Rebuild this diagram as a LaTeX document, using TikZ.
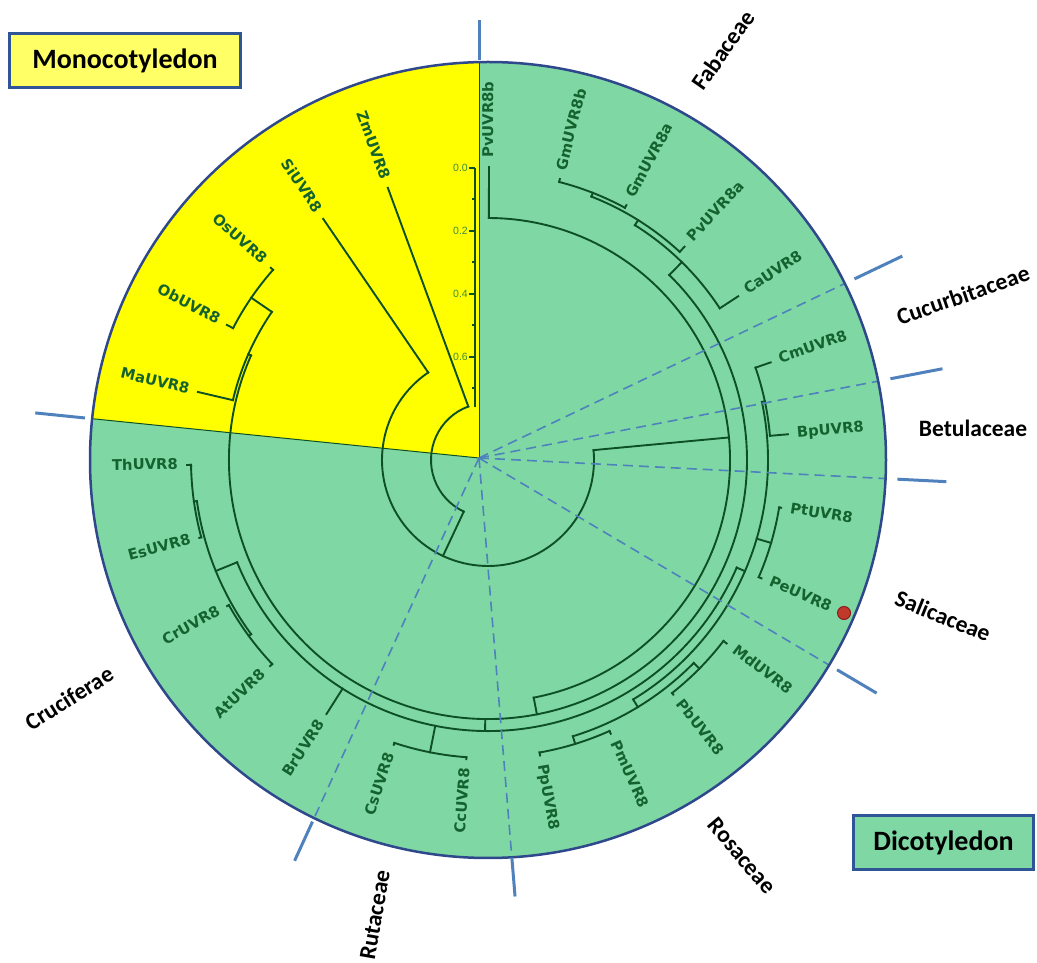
\documentclass[tikz,border=0pt]{standalone}
\usepackage{fontspec}
\newfontfamily\famfont{Carlito}
\newfontfamily\leaffont{DejaVu Sans}
\newfontfamily\barfont{Liberation Sans}
\usetikzlibrary{calc, positioning}
\definecolor{circfill}{RGB}{127,215,164}
\definecolor{monofill}{RGB}{255,255,0}
\definecolor{monobox}{RGB}{255,255,102}
\definecolor{branchcol}{RGB}{14,80,38}
\definecolor{leafcol}{RGB}{20,98,46}
\definecolor{rimcol}{RGB}{47,72,140}
\definecolor{tickcol}{RGB}{79,129,189}
\definecolor{boxedge}{RGB}{47,85,151}
\definecolor{barlbl}{RGB}{64,140,64}
\definecolor{dotcol}{RGB}{192,57,43}
\definecolor{dotedge}{RGB}{140,30,30}

\begin{document}
\begin{tikzpicture}[x=1pt, y=1pt,
    branch/.style={draw=branchcol, line width=1.9, line cap=rect},
    edge/.style={draw=branchcol, line width=1},
    leaf/.style={text=leafcol, font=\leaffont\bfseries\fontsize{14.8}{16}\selectfont, inner sep=0, text height=11pt, text depth=3pt},
    family/.style={font=\famfont\bfseries\fontsize{23.5}{26}\selectfont, inner sep=0},
    groupbox/.style={draw=boxedge, line width=3, font=\famfont\bfseries\fontsize{28}{32}\selectfont, minimum height=54},
    boundary/.style={draw=tickcol, line width=3},
    divider/.style={draw=tickcol, line width=1.6, dash pattern=on 10pt off 6pt},
    scalebar/.style={draw=branchcol, line width=2},
    barlabel/.style={text=barlbl, font=\barfont\fontsize{10.5}{12}\selectfont, inner sep=0}
  ]
  \useasboundingbox (0,0) rectangle (1037,962);

  % Kreis und Sektor
  \coordinate (T) at (488,502);
  \coordinate (A) at (479,504);
  \fill[circfill] (T) circle (398);
  \begin{scope}
    \clip (T) circle (398);
    \fill[monofill] (A) -- +(90:500) -- +(132:700) -- +(174.2:500) -- cycle;
    \draw[edge] (A) -- +(90:500);
    \draw[edge] (A) -- +(174.2:500);
  \end{scope}

  % Baum
  \begin{scope}[shift={(T)}]
    \draw[branch] (110.2:57) arc[start angle=110.2, end angle=244.85, radius=57];
    \foreach \from/\upto/\rad/\prad in {
        124.35/365.35/106/57, 280.89/449.8/242/106, 156.19/405.58/259/242,
        145.575/166.8/262/259, 138.5/152.65/287/262, 202.18/336.6/271/259,
        188.03/216.33/294/271, 180.95/195.1/297/294, 209.25/223.4/297/294,
        251.7/265.85/298/271, 301.23/371.98/280/271, 287.08/315.38/289/280,
        280/294.15/297/289, 308.3/322.45/297/289, 336.6/350.75/295/280,
        364.9/379.05/283/280, 393.2/417.96/277/259, 407.35/428.58/283/277,
        421.5/435.65/287/283}
    {
      \pgfmathsetmacro\cmid{(\from+\upto)/2}
      \draw[branch] (\cmid:\prad) -- (\cmid:\rad);
      \draw[branch] (\from:\rad) arc[start angle=\from, end angle=\upto, radius=\rad];
    }
    % linke Haelfte
    \foreach \lang/\lbase/\ltip/\lname in {
        110.2/57/290/ZmUVR8, 124.35/106/292/SiUVR8, 138.5/287/290/OsUVR8,
        152.65/287/294/ObUVR8, 166.8/262/298/MaUVR8, 180.95/297/301/ThUVR8,
        195.1/297/299/EsUVR8, 209.25/297/299/CrUVR8, 223.4/297/300/AtUVR8,
        237.55/271/301/BrUVR8, 251.7/298/300/CsUVR8, 265.85/298/300/CcUVR8}
    {
      \pgfmathsetmacro\lpos{\ltip+9}
      \draw[branch] (\lang:\lbase) -- (\lang:\ltip);
      \node[leaf, rotate=\lang-180, anchor=east] (\lname) at (\lang:\lpos) {\lname};
    }
    % rechte Haelfte
    \foreach \lang/\lbase/\ltip/\lname in {
        280/297/300/PpUVR8, 294.15/297/300/PmUVR8, 308.3/297/299/PbUVR8,
        322.45/297/301/MdUVR8, 336.6/295/298/PeUVR8, 350.75/295/297/PtUVR8,
        364.9/283/301/BpUVR8, 379.05/283/299/CmUVR8, 393.2/277/299/CaUVR8,
        407.35/283/290/PvUVR8a, 421.5/287/290/GmUVR8a, 435.65/287/290/GmUVR8b,
        449.8/242/293/PvUVR8b}
    {
      \pgfmathsetmacro\lpos{\ltip+9}
      \draw[branch] (\lang:\lbase) -- (\lang:\ltip);
      \node[leaf, rotate=\lang, anchor=west] (\lname) at (\lang:\lpos) {\lname};
    }
  \end{scope}

  % Massstab
  \draw[scalebar] (475,794) -- (475,555);
  \foreach \k in {0,...,7}{
    \pgfmathsetmacro\tlen{ifthenelse(mod(\k,2)==0,6,3)}
    \draw[scalebar] (475,{794-31.5*\k}) -- ++(-\tlen,0);
  }
  \foreach \k/\v in {0/0.0, 2/0.2, 4/0.4, 6/0.6}
    \node[barlabel, anchor=east] (tick\k) at (468,{794-31.5*\k}) {\v};

  % Trennlinien
  \begin{scope}
    \clip (T) circle (398);
    \foreach \w in {25.5, 10.9, -2.9, -30.6, -85.3, -114.6}
      \draw[divider] (A) -- +(\w:500);
  \end{scope}
  \draw[rimcol, line width=2.5] (T) circle (398);
  \foreach \w/\i/\o in {90/398/438, 174.2/396/446, 25.5/416/469, 10.9/419/472,
      -2.9/419/468, -30.6/416/462, -85.3/401/440, -114.6/400/443}
    \draw[boundary] ($(A)+(\w:\i)$) -- ($(A)+(\w:\o)$);

  % Familien
  \node[family, rotate=55] (fab) at (723,912) {Fabaceae};
  \node[family, rotate=19] (cuc) at (963,667) {Cucurbitaceae};
  \node[family] (bet) at (973,534) {Betulaceae};
  \node[family, rotate=-22] (sal) at (943,346) {Salicaceae};
  \node[family, rotate=-50] (ros) at (742,106) {Rosaceae};
  \node[family, rotate=80] (rut) at (375,47) {Rutaceae};
  \node[family, rotate=32] (cru) at (69,264) {Cruciferae};

  % Gruppen
  \node[groupbox, fill=monobox, minimum width=231] (mono) at (125,901.5) {Monocotyledon};
  \node[groupbox, fill=circfill, minimum width=180] (dico) at (943.5,119.5) {Dicotyledon};

  % Markierung
  \node[circle, fill=dotcol, draw=dotedge, line width=1, minimum size=13, inner sep=0] (mark) at (844,349) {};
\end{tikzpicture}
\end{document}
